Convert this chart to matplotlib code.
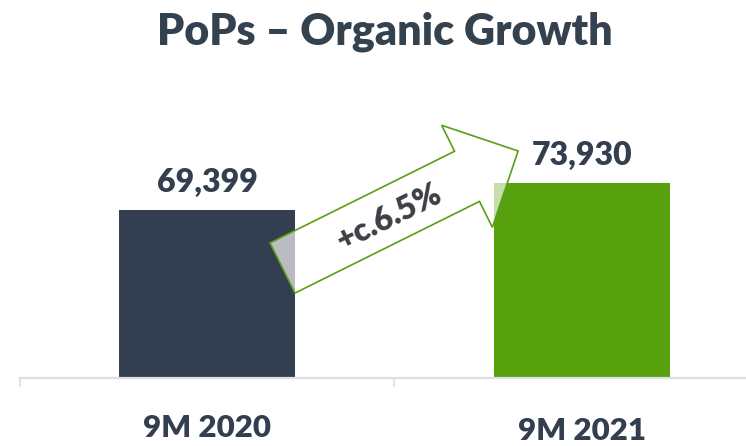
import matplotlib
matplotlib.use('Agg')
import matplotlib.pyplot as plt
import numpy as np
from matplotlib.patches import Polygon
from matplotlib.transforms import IdentityTransform, ScaledTranslation

# ---- data ----
categories = ['9M 2020', '9M 2021']
values = [69399, 73930]
value_labels = ['69,399', '73,930']
growth_label = '+c.6.5%'
title = 'PoPs – Organic Growth'

plt.rcParams['font.family'] = ['Lato', 'DejaVu Sans']

TEXT = '#333F4F'
BAR_COLORS = ['#333F50', '#58A10E']
ARROW_EDGE = '#5AA012'
AXIS_GREY = '#DCE0E5'
WEIGHT = 'heavy'

fig = plt.figure(figsize=(7.46, 4.46), dpi=100)
W, H = 746, 446
base_px = 377.5
top_px = 100
ax = fig.add_axes([20 / W, (H - base_px) / H, 749 / W, (base_px - top_px) / H])

x = np.arange(len(categories))
ax.bar(x, values, width=0.47, color=BAR_COLORS, zorder=2)
ax.set_xlim(-0.5, 1.5)
ax.set_ylim(41300, 87860)

for s in ['left', 'right', 'top']:
    ax.spines[s].set_visible(False)
ax.spines['bottom'].set_color(AXIS_GREY)
ax.spines['bottom'].set_linewidth(1.6)
ax.set_yticks([])

ax.set_xticks(x)
ax.set_xticklabels(categories, fontsize=22.5, fontweight=WEIGHT, color=TEXT)
ax.set_xticks([-0.5, 0.5, 1.5], minor=True)
ax.tick_params(axis='x', which='major', length=0, pad=26)
ax.tick_params(axis='x', which='minor', length=6.5, width=1.2, color=AXIS_GREY)
# second label sits slightly lower in the reference
lbl2 = ax.get_xticklabels()[1]
lbl2.set_transform(lbl2.get_transform() + ScaledTranslation(0, -3 / 100, fig.dpi_scale_trans))

# value labels
for xi, v, lbl in zip(x, values, value_labels):
    ax.annotate(lbl, (xi, v), xytext=(0, 12.8), textcoords='offset points',
                ha='center', va='baseline', fontsize=23, fontweight=WEIGHT,
                color=TEXT, zorder=5)

# title
fig.text(384.5 / W, (H - 44.3) / H, title, ha='center', va='baseline',
         fontsize=31, fontweight=WEIGHT, color='#34414F')

# growth arrow (anchored in data coordinates, built in pixel space)
tail = ax.transData.transform((0.201, 59674))
tip = ax.transData.transform((0.830, 79307))
d = tip - tail
L = np.hypot(*d)
u = d / L
n = np.array([-u[1], u[0]])
shaft_hw, head_hw, head_len = 28.0, 57.0, 57.0
basept = tip - u * head_len
pts = [tail + n * shaft_hw, basept + n * shaft_hw, basept + n * head_hw, tip,
       basept - n * head_hw, basept - n * shaft_hw, tail - n * shaft_hw]
arrow = Polygon(pts, closed=True, facecolor=(1, 1, 1, 0.66), edgecolor=ARROW_EDGE,
                linewidth=1.2, transform=IdentityTransform(), zorder=3, clip_on=False)
ax.add_artist(arrow)
ang = np.degrees(np.arctan2(u[1], u[0]))
tp = tail + u * 118 - n * 2
fig.text(tp[0] / W, tp[1] / H, growth_label, rotation=ang, rotation_mode='anchor',
         ha='center', va='center', fontsize=23, fontweight=WEIGHT, color='#3C3F44',
         zorder=6)

fig.savefig('out.png', dpi=100)
